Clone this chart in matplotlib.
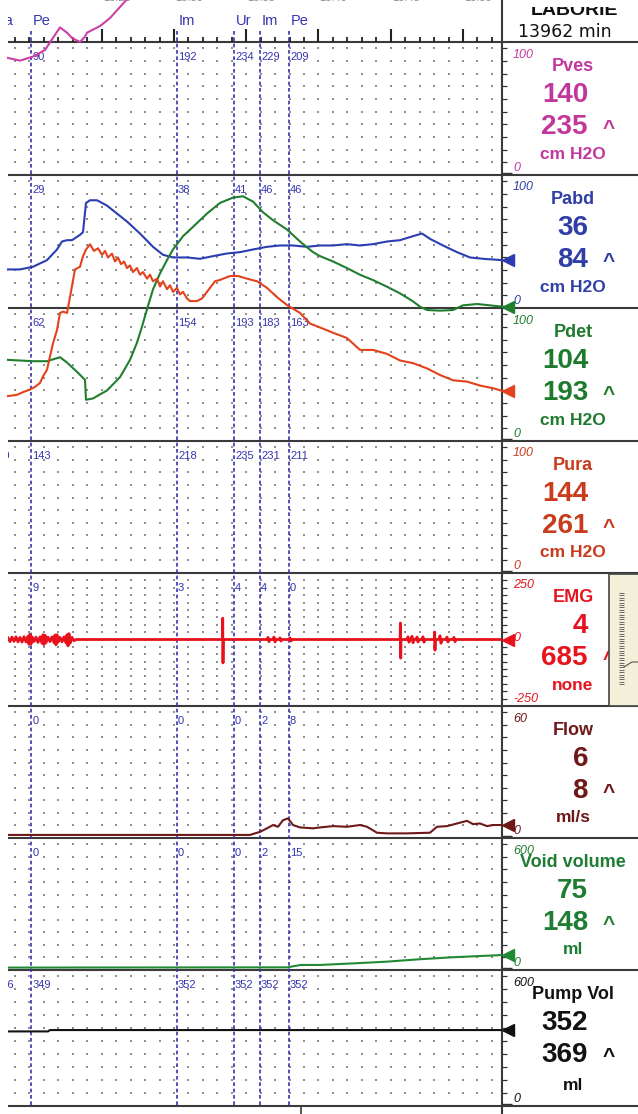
import numpy as np
import matplotlib
matplotlib.use('Agg')
import matplotlib.pyplot as plt
from matplotlib.patches import Rectangle

plt.rcParams['font.family'] = ['Liberation Sans', 'DejaVu Sans']

# ---- data: time in samples from the left edge of the trace window ----
event_names = ['Pe', 'Im', 'Ur', 'Im', 'Pe']
event_t = [23, 168.5, 225.5, 251.5, 280.5]

channels = ['Pves', 'Pabd', 'Pdet', 'Pura', 'EMG', 'Flow', 'Void volume', 'Pump Vol']
units = ['cm H2O', 'cm H2O', 'cm H2O', 'cm H2O', 'none', 'ml/s', 'ml', 'ml']
current = [140, 36, 104, 144, 4, 6, 75, 352]
maximum = [235, 84, 193, 261, 685, 8, 148, 369]
scale_hi = [100, 100, 100, 100, 250, 60, 600, 600]
scale_lo = [0, 0, 0, 0, -250, 0, 0, 0]

# values at each event marker, per channel
event_values = [
    ['90', '192', '234', '229', '209'],
    ['29', '38', '41', '46', '46'],
    ['62', '154', '193', '183', '163'],
    ['143', '218', '235', '231', '211'],
    ['9', '3', '4', '4', '0'],
    ['0', '0', '0', '2', '8'],
    ['0', '0', '0', '2', '15'],
    ['349', '352', '352', '352', '352'],
]
top_time_labels = ['10:25', '10:30', '10:35', '10:40', '10:45', '10:50']

pves_t = [0, 12, 25, 37, 44, 52, 59, 64, 72, 77, 79, 92, 102, 114, 125, 140, 170, 230, 300, 400, 494]
pves_v = [88, 86, 89, 94, 102, 111, 107, 103, 100, 104, 107, 112, 118, 128, 137, 150, 190, 234, 210, 160, 140]

pabd_t = [0, 12, 25, 39, 49, 54, 59, 64, 72, 75, 78, 82, 89, 99, 109, 119, 132, 145, 155, 165,
          179, 192, 205, 219, 232, 245, 259, 272, 285, 299, 312, 325, 339, 352, 365, 379, 392, 405,
          414, 422, 435, 449, 462, 475, 494]
pabd_v = [29, 29, 31, 36, 44, 50, 51, 51, 55, 57, 79, 81, 81, 77, 71, 65, 56, 46, 40, 38,
          38, 37, 39, 41, 42, 44, 46, 47, 47, 46, 47, 47, 48, 47, 48, 50, 51, 54,
          56, 52, 47, 42, 38, 37, 36]

pdet_t = [0, 25, 39, 52, 59, 69, 77, 78, 85, 99, 112, 122, 129, 134, 139, 145, 152, 159, 165, 175,
          185, 199, 212, 225, 235, 245, 255, 265, 279, 292, 305, 312, 325, 339, 352, 365, 379, 392,
          405, 412, 419, 432, 445, 455, 469, 482, 494]
pdet_v = [61, 60, 60, 63, 59, 52, 46, 31, 32, 38, 48, 61, 74, 86, 99, 114, 126, 136, 144, 154,
          161, 171, 179, 183, 184, 180, 172, 166, 159, 150, 142, 139, 135, 130, 125, 121, 116, 111,
          105, 101, 98.5, 98, 98.5, 102, 103, 102, 101]

pura_t = [0, 9, 15, 22, 27, 32, 35, 39, 42, 45, 49, 52, 55, 59, 62, 67, 72, 75, 78,
          82, 86, 90, 94, 97, 100, 104, 107, 110, 113, 116, 119, 122, 125, 129, 132, 135, 139,
          142, 145, 149, 152, 155, 159, 162, 165, 169, 172, 175, 179,
          182, 189, 194, 200, 207, 212, 222, 230, 239, 249, 259, 269, 279, 292, 302, 312, 325,
          339, 352, 365, 379, 392, 405, 419, 432, 445, 459, 472, 485, 494]
pura_v = [134, 135, 137, 139, 141, 144, 149, 154, 164, 174, 184, 197, 198, 197, 209, 230, 232, 240, 245,
          249, 244, 246, 241, 244, 239, 242, 236, 239, 234, 236, 231, 233, 228, 231, 226, 228, 223,
          226, 221, 223, 217, 221, 215, 218, 213, 216, 211, 213, 208,
          206, 206, 208, 214, 221, 222, 225, 225, 223, 221, 216, 209, 203, 197, 189, 186, 182,
          178, 169, 169, 166, 161, 159, 155, 150, 146, 145, 142, 140, 138]

emg_points = [
    (0, 6), (2, -8), (4, 9), (6, -7), (8, 10), (10, -9), (12, 8), (14, -10), (16, 11), (18, -9),
    (20, 12), (21, -18), (22, 20), (23, -17), (24, 10), (26, -8), (28, 9), (30, -11), (32, 10),
    (34, -14), (35, 18), (36, -19), (37, 16), (38, -12), (40, 9), (42, -8), (44, 10), (46, -12),
    (47, 17), (48, -20), (49, 18), (50, -10), (52, 8), (54, -9), (56, 10), (58, -13), (59, 18),
    (60, -24), (61, 22), (62, -14), (64, 8), (66, -5), (68, 0),
    (214.4, 0), (214.7, 80), (215.0, -88), (215.3, 0),
    (259, 0), (260, 8), (261, -8), (262, 0), (265, 0), (266, 9), (267, -9), (268, 0),
    (271, 0), (272, 6), (273, -6), (274, 0), (281, 0), (282, 6), (283, -6), (284, 0),
    (392.1, 0), (392.4, 62), (392.7, -70), (393.0, 0),
    (399, 0), (400, 10), (401, -10), (402, 0), (403, 0), (404, 12), (405, -12), (406, 0),
    (408, 0), (409, 9), (410, -9), (411, 0), (414, 0), (415, 10), (416, -10), (417, 0),
    (426.4, 0), (426.7, 28), (427.0, -40), (427.3, 0),
    (431, 0), (432, 14), (433, -14), (434, 0), (438, 0), (439, 9), (440, -9), (441, 0),
    (445, 0), (446, 8), (447, -8), (448, 0), (494, 0),
]
emg_t = [p[0] for p in emg_points]
emg_v = [p[1] for p in emg_points]

flow_t = [0, 242, 252, 259, 265, 270, 275, 280, 285, 292, 305, 312, 325, 339, 352, 359, 369, 379,
          399, 422, 429, 439, 449, 459, 465, 472, 479, 485, 494]
flow_v = [1.4, 1.4, 2.8, 4.4, 5.9, 5.1, 8.1, 8.9, 5.9, 4.8, 4.4, 4.8, 5.4, 5.1, 5.9, 5.1, 2.4, 2.1,
          2.1, 2.4, 5.1, 5.4, 6.6, 7.8, 6.3, 6.6, 5.4, 5.9, 5.9]

void_t = [0, 279, 293, 312, 345, 379, 412, 445, 494]
void_v = [11, 12, 23, 23, 30, 38, 49, 58, 68]

pump_t = [0, 40, 42, 494]
pump_v = [329, 329, 335, 335]

series_t = [pves_t, pabd_t, pdet_t, pura_t, emg_t, flow_t, void_t, pump_t]
series_v = [pves_v, pabd_v, pdet_v, pura_v, emg_v, flow_v, void_v, pump_v]

# ---- styling ----
text_colors = ['#c2379c', '#2f3fa6', '#1e7a2c', '#c93b1c', '#e5141e', '#6e1818', '#1e7d32', '#111111']
trace_colors = ['#cc3fa6', '#2b3db0', '#1f7f2e', '#e4421c', '#e8121c', '#6e1818', '#1f8a33', '#111111']
blue = '#3434b0'
line_c = '#3a3a3a'

W, H = 638, 1114
X0, X1 = 8, 502
SPAN = X1 - X0
bounds = [42, 175, 308, 441, 573, 706, 838, 970, 1106]

fig = plt.figure(figsize=(W / 100, H / 100), dpi=100)

# background / right panel (pixel coordinates)
bg = fig.add_axes([0, 0, 1, 1], zorder=0)
bg.set_xlim(0, W)
bg.set_ylim(H, 0)
bg.axis('off')

# frame over the trace window: x in samples, y in pixel rows
fr = fig.add_axes([X0 / W, 0, SPAN / W, 1], zorder=1)
fr.set_xlim(0, SPAN)
fr.set_ylim(H, 0)
fr.axis('off')

dot_t = 7 + 14.45 * np.arange(34)

# grid dots and scale ticks for each channel
for i in range(8):
    top, bot = bounds[i], bounds[i + 1]
    h = bot - top
    if channels[i] == 'EMG':
        rows = top + h * np.arange(1, 18) / 18
    else:
        rows = top + h * (np.arange(10) + 0.5) / 10.5
    gx, gy = np.meshgrid(dot_t, rows)
    fr.plot(gx.ravel(), gy.ravel(), ls='none', marker='s', ms=1.5, mew=0, color='#8e8e8e')
    bg.hlines(rows, X1, X1 + 5, color='#333333', lw=0.9)
    if scale_lo[i] == 0:
        bg.hlines(bot - 2.5, X1, X1 + 10, color='#333333', lw=1.0)

# separators
bg.hlines(bounds, X0, W, color=line_c, lw=1.5)
bg.vlines(X1, 0, H, color=line_c, lw=1.5)
bg.vlines(301, bounds[-1], H, color=line_c, lw=1.2)

# header time axis (its clock labels are cut by the top edge, as in the printout)
fr.vlines(dot_t, 37, 42, color='#222222', lw=1.3)
fr.vlines(dot_t[6::5], 29, 42, color='#222222', lw=1.5)
for tm, lbl in zip(dot_t[6::5], top_time_labels):
    fr.text(tm + 1, 3, lbl, fontsize=8, color='#8a8a8a', va='bottom', clip_on=False)
fr.text(5.3, 25, 'Ua', ha='right', va='baseline', fontsize=10.5, color=blue, clip_on=True)

# event markers
fr.vlines(event_t, 31, bounds[-1], colors=blue, linestyles=(0, (2.2, 1.6)), lw=1.2)
for t, n in zip(event_t, event_names):
    fr.text(t + 2, 25, n, fontsize=10.5, color=blue, va='baseline')
for i in range(8):
    for t, s in zip(event_t, event_values[i]):
        fr.text(t + 1.5, bounds[i] + 18, s, fontsize=8, color=blue, va='baseline')
fr.text(2, bounds[3] + 18, '240', ha='right', va='baseline', fontsize=8, color=blue, clip_on=True)
fr.text(6, bounds[7] + 18, '346', ha='right', va='baseline', fontsize=8, color=blue, clip_on=True)

# traces, one axes per channel
for i in range(8):
    top, bot = bounds[i], bounds[i + 1]
    ax = fig.add_axes([X0 / W, 1 - bot / H, SPAN / W, (bot - top) / H], zorder=2 + i)
    ax.set_xlim(0, SPAN)
    ax.set_ylim(scale_lo[i], scale_hi[i])
    ax.axis('off')
    lw = 2.0 if channels[i] == 'EMG' else 1.5
    ax.plot(series_t[i], series_v[i], color=trace_colors[i], lw=lw, clip_on=(i >= 4))
    if i > 0:
        ax.plot([SPAN + 6], [series_v[i][-1]], marker='<', ms=9, color=trace_colors[i],
                clip_on=False)

# right panel labels
bg.text(574, 15, 'LABORIE', ha='center', va='baseline', fontsize=14, weight='bold', color='#111111')
bg.add_patch(Rectangle((503.5, -2), 140, 8.5, facecolor='white', edgecolor='none', zorder=4))
bg.text(565, 37, '13962 min', ha='center', va='baseline', fontsize=12.5,
        family='DejaVu Sans', color='#111111')

for i in range(8):
    top, bot = bounds[i], bounds[i + 1]
    c = text_colors[i]
    extra = bot - top - 133
    bg.text(573, top + 29, channels[i], ha='center', va='baseline', fontsize=13,
            weight='bold', color=c)
    bg.text(588, top + 60, str(current[i]), ha='right', va='baseline', fontsize=20,
            weight='bold', color=c)
    bg.text(588, top + 92, str(maximum[i]), ha='right', va='baseline', fontsize=20,
            weight='bold', color=c)
    bg.text(603, top + 92, '^', ha='left', va='baseline', fontsize=15, weight='bold', color=c)
    bg.text(573, top + 117 + extra, units[i], ha='center', va='baseline', fontsize=12.5,
            weight='bold', color=c)
    bg.text(513, top + 15.5, str(scale_hi[i]), ha='left', va='baseline', fontsize=9,
            style='italic', color=c)
    bg.text(513, bot - 4, str(scale_lo[i]), ha='left', va='baseline', fontsize=9,
            style='italic', color=c)
bg.text(513, 641, '0', ha='left', va='baseline', fontsize=9, style='italic', color=text_colors[4])

# small instrument window beside EMG
bg.add_patch(Rectangle((609, bounds[4] + 0.5), 40, bounds[5] - bounds[4] - 0.5,
                       facecolor='#f4efd9', edgecolor='#444444', lw=1.2, zorder=5))
bg.hlines(np.arange(593, 686, 2.4), 619, 624, color='#555555', lw=0.6, zorder=6)
bg.plot([624, 632, 640], [667, 662, 662], color='#555555', lw=0.8, zorder=6)

fig.savefig('out.png', dpi=100)
